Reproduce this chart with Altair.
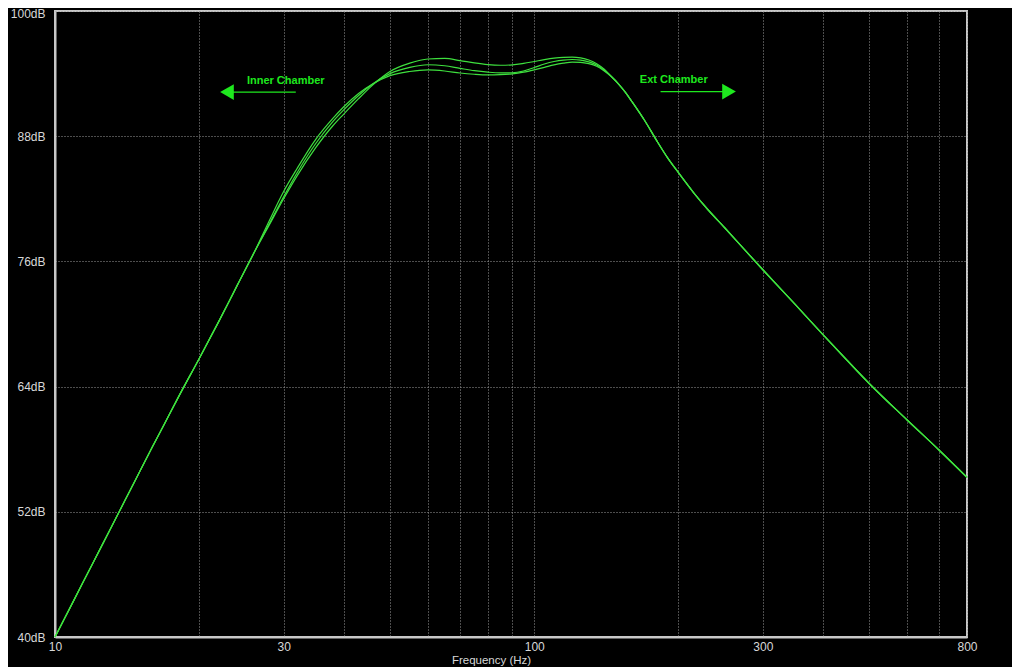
import altair as alt
import pandas as pd

# ---------------- data ----------------
freq = [10, 11, 12, 13, 14, 15, 16, 17, 18, 20, 22, 24, 26, 28, 30, 32, 35, 38, 40, 43, 46,
        50, 55, 60, 65, 70, 75, 80, 85, 90, 95, 100, 105, 110, 115, 120, 125, 130, 135, 140,
        145, 150, 155, 160, 170, 180, 190, 200, 215, 230, 250, 275, 300, 350, 400, 450, 500,
        600, 700, 800]

rise = [40.0, 43.7, 47.1, 50.2, 53.1, 55.8, 58.3, 60.6, 62.8, 66.7, 70.3, 73.7, 76.8]
fall = [93.7, 93.0, 92.2, 91.3, 89.5, 87.6, 85.9, 84.5, 82.6, 81.0, 79.2, 77.1, 75.2, 71.9,
        69.0, 66.5, 64.3, 60.8, 57.9, 55.3]

# passband parts (28 Hz .. 140 Hz)
mid_a = [79.5, 82.0, 84.2, 86.9, 89.0, 90.1, 91.6, 92.9, 94.2, 95.0, 95.4, 95.45, 95.25, 95.02,
         94.86, 94.8, 94.84, 94.98, 95.16, 95.34, 95.48, 95.56, 95.58, 95.5, 95.3, 94.95, 94.42]
mid_b = [79.6, 82.2, 84.5, 87.3, 89.4, 90.5, 91.9, 93.0, 94.0, 94.6, 94.85, 94.75, 94.5, 94.28,
         94.14, 94.07, 94.08, 94.25, 94.58, 94.92, 95.16, 95.3, 95.35, 95.3, 95.13, 94.83, 94.33]
mid_c = [79.9, 82.7, 84.9, 87.7, 89.7, 90.8, 92.1, 93.0, 93.8, 94.2, 94.35, 94.25, 94.06, 93.94,
         93.88, 93.9, 93.98, 94.14, 94.36, 94.6, 94.84, 95.0, 95.1, 95.08, 94.95, 94.7, 94.25]

series = {
    "Response A": rise + mid_a + fall,
    "Response B": rise + mid_b + fall,
    "Response C": rise + mid_c + fall,
}

x_grid = [10, 20, 30, 40, 50, 60, 70, 80, 90, 100, 200, 300, 400, 500, 600, 700, 800]
x_labels = [10, 30, 100, 300, 800]
y_ticks = [40, 52, 64, 76, 88, 100]

ann_text = ["Inner Chamber", "Ext Chamber"]
ann_text_f = [30.3, 195.5]
ann_text_db = [93.3, 93.38]

arrow_id = ["inner", "inner", "ext", "ext"]
arrow_f = [31.8, 23.5, 183.5, 248.0]
arrow_db = [92.23, 92.23, 92.28, 92.28]

head_shape = ["triangle-left", "triangle-right"]
head_f = [22.85, 255.0]
head_db = [92.23, 92.28]

# ---------------- tables ----------------
rows = []
for name, vals in series.items():
    for f, v in zip(freq, vals):
        rows.append({"freq": f, "db": v, "series": name})
df = pd.DataFrame(rows)

df_text = pd.DataFrame({"freq": ann_text_f, "db": ann_text_db, "label": ann_text})
df_arrow = pd.DataFrame({"freq": arrow_f, "db": arrow_db, "id": arrow_id})
df_head = pd.DataFrame({"freq": head_f, "db": head_db, "shape": head_shape})

GREEN = "#3ee03e"
ANN = "#1ee81e"
GRID = "#9a9a9a"
FRAME = "#c8c8c8"
LABEL = "#d8d8d8"
FONT = "Liberation Sans"

xscale = alt.Scale(type="log", domain=[10, 800], nice=False)
yscale = alt.Scale(domain=[40, 100], nice=False, zero=False)

label_list = "[" + ",".join(str(v) for v in x_labels) + "]"
xaxis = alt.Axis(
    values=x_grid,
    labelExpr=f"indexof({label_list}, datum.value) >= 0 ? format(datum.value, 'd') : ''",
    grid=True, gridColor=GRID, gridDash=[1, 2], gridWidth=1,
    ticks=False, domainColor=FRAME, domainWidth=2,
    labelColor=LABEL, labelFont=FONT, labelFontSize=12, labelPadding=4,
    labelOverlap=False, labelFlush=False,
    title="Frequency (Hz)", titleColor=LABEL, titleFont=FONT, titleFontSize=11.5,
    titleFontWeight="normal", titleX=436, titleY=23, titleBaseline="middle",
)
yaxis = alt.Axis(
    values=y_ticks,
    labelExpr="datum.value + 'dB'",
    grid=True, gridColor=GRID, gridDash=[1, 2], gridWidth=1,
    ticks=False, domainColor=FRAME, domainWidth=2,
    labelColor=LABEL, labelFont=FONT, labelFontSize=12, labelPadding=10,
    labelBaseline="middle",
    labelOffset={"condition": {"test": "datum.value == 100", "value": 2}, "value": 0},
    labelOverlap=False, labelFlush=False, title=None,
)

lines = alt.Chart(df).mark_line(color=GREEN, strokeWidth=1.2, interpolate="monotone").encode(
    x=alt.X("freq:Q", scale=xscale, axis=xaxis),
    y=alt.Y("db:Q", scale=yscale, axis=yaxis),
    detail="series:N",
)

texts = alt.Chart(df_text).mark_text(
    color=ANN, font=FONT, fontSize=11, fontWeight="bold", align="center", baseline="middle"
).encode(x=alt.X("freq:Q", scale=xscale), y=alt.Y("db:Q", scale=yscale), text="label:N")

arrows = alt.Chart(df_arrow).mark_line(color=ANN, strokeWidth=1.3).encode(
    x=alt.X("freq:Q", scale=xscale), y=alt.Y("db:Q", scale=yscale), detail="id:N"
)

heads = alt.Chart(df_head).mark_point(filled=True, size=250, color=ANN, opacity=1, strokeWidth=0).encode(
    x=alt.X("freq:Q", scale=xscale), y=alt.Y("db:Q", scale=yscale),
    shape=alt.Shape("shape:N", scale=None),
)

chart = alt.layer(lines, arrows, heads, texts).properties(
    width=912, height=626,
    padding={"left": 47, "top": 3, "right": 45, "bottom": 30},
    autosize=alt.AutoSizeParams(type="none"),
    background="black",
).configure_view(stroke=FRAME, strokeWidth=2)

chart.save("out.html", embed_options={"renderer": "svg", "actions": False})
